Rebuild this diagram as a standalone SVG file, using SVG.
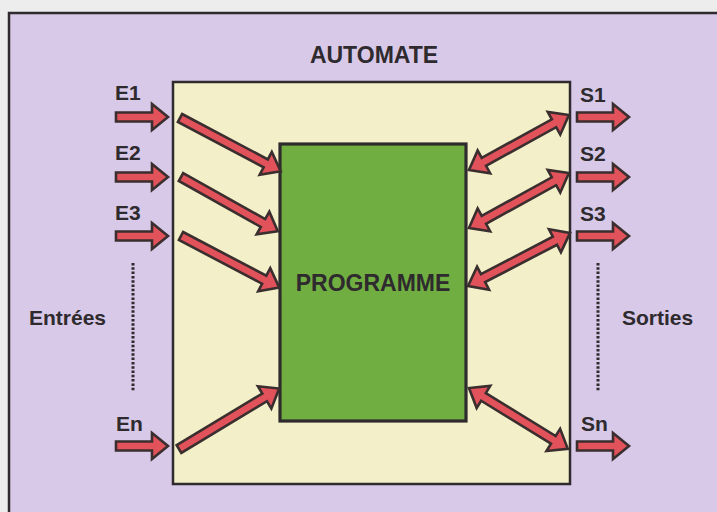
<svg xmlns="http://www.w3.org/2000/svg" width="717" height="512" viewBox="0 0 717 512">
<style>
.t{font-family:"Liberation Sans",Arial,sans-serif;font-weight:bold;fill:#2e2a2e}
.big{font-size:23px}
.mid{font-size:21px}
.lab{font-size:21px}
.arr{fill:#e2525a;stroke:#3a2e2f;stroke-width:2.6;stroke-linejoin:miter}
.dot{stroke:#2e2a2e;stroke-width:3;stroke-dasharray:2.5 1.8;fill:none}
</style>
<rect x="0" y="0" width="717" height="512" fill="#ededee"/>
<g id="frame">
<rect x="9" y="13" width="720" height="510" fill="#d7c9e7" stroke="#2e2a2e" stroke-width="2.5"/>
</g>
<g id="automate">
<rect x="173" y="82" width="397" height="402" fill="#f3f0c9" stroke="#2e2a2e" stroke-width="2.5"/>
<text class="t big" x="374" y="63" text-anchor="middle">AUTOMATE</text>
</g>
<g id="programme">
<rect x="280" y="144" width="186" height="277" fill="#70ae42" stroke="#2e2a2e" stroke-width="3.2"/>
<text class="t big" x="373" y="291" text-anchor="middle">PROGRAMME</text>
</g>
<g id="entrees">
<text class="t mid" x="29" y="325">Entrées</text>
<line class="dot" x1="133" y1="263" x2="133" y2="391"/>
<text class="t lab" x="115" y="100">E1</text>
<text class="t lab" x="115" y="160">E2</text>
<text class="t lab" x="115" y="220">E3</text>
<text class="t lab" x="116" y="431">En</text>
</g>
<g id="sorties">
<text class="t mid" x="622" y="325">Sorties</text>
<line class="dot" x1="598" y1="263" x2="598" y2="391"/>
<text class="t lab" x="580" y="102">S1</text>
<text class="t lab" x="580" y="161">S2</text>
<text class="t lab" x="580" y="221">S3</text>
<text class="t lab" x="581" y="431">Sn</text>
</g>
<g id="connectors">
<path class="arr" transform="translate(116,117)" d="M0,-4.5 H36 V-13 L52,0 L36,13 V4.5 H0 Z"/>
<path class="arr" transform="translate(116,177)" d="M0,-4.5 H36 V-13 L52,0 L36,13 V4.5 H0 Z"/>
<path class="arr" transform="translate(116,236)" d="M0,-4.5 H36 V-13 L52,0 L36,13 V4.5 H0 Z"/>
<path class="arr" transform="translate(116,446)" d="M0,-4.5 H36 V-13 L52,0 L36,13 V4.5 H0 Z"/>
<path class="arr" transform="translate(577,117)" d="M0,-4.5 H36 V-13 L52,0 L36,13 V4.5 H0 Z"/>
<path class="arr" transform="translate(577,177)" d="M0,-4.5 H36 V-13 L52,0 L36,13 V4.5 H0 Z"/>
<path class="arr" transform="translate(577,236)" d="M0,-4.5 H36 V-13 L52,0 L36,13 V4.5 H0 Z"/>
<path class="arr" transform="translate(577,446)" d="M0,-4.5 H36 V-13 L52,0 L36,13 V4.5 H0 Z"/>
<path class="arr" transform="translate(180,118) rotate(27.9)" d="M0,-4.5 H97 V-13 L114,0 L97,13 V4.5 H0 Z"/>
<path class="arr" transform="translate(181,177) rotate(29.3)" d="M0,-4.5 H94 V-13 L111,0 L94,13 V4.5 H0 Z"/>
<path class="arr" transform="translate(181,236) rotate(27.7)" d="M0,-4.5 H94 V-13 L111,0 L94,13 V4.5 H0 Z"/>
<path class="arr" transform="translate(179,449) rotate(-31.1)" d="M0,-4.5 H100 V-13 L117,0 L100,13 V4.5 H0 Z"/>
<path class="arr" transform="translate(469,170) rotate(-28.8)" d="M17,-4.5 H97 V-13 L114,0 L97,13 V4.5 H17 V13 L0,0 L17,-13 Z"/>
<path class="arr" transform="translate(469,228) rotate(-28.8)" d="M17,-4.5 H97 V-13 L114,0 L97,13 V4.5 H17 V13 L0,0 L17,-13 Z"/>
<path class="arr" transform="translate(468,286) rotate(-27.5)" d="M17,-4.5 H98 V-13 L115,0 L98,13 V4.5 H17 V13 L0,0 L17,-13 Z"/>
<path class="arr" transform="translate(469,388) rotate(31.6)" d="M17,-4.5 H99 V-13 L116,0 L99,13 V4.5 H17 V13 L0,0 L17,-13 Z"/>
</g>
</svg>
